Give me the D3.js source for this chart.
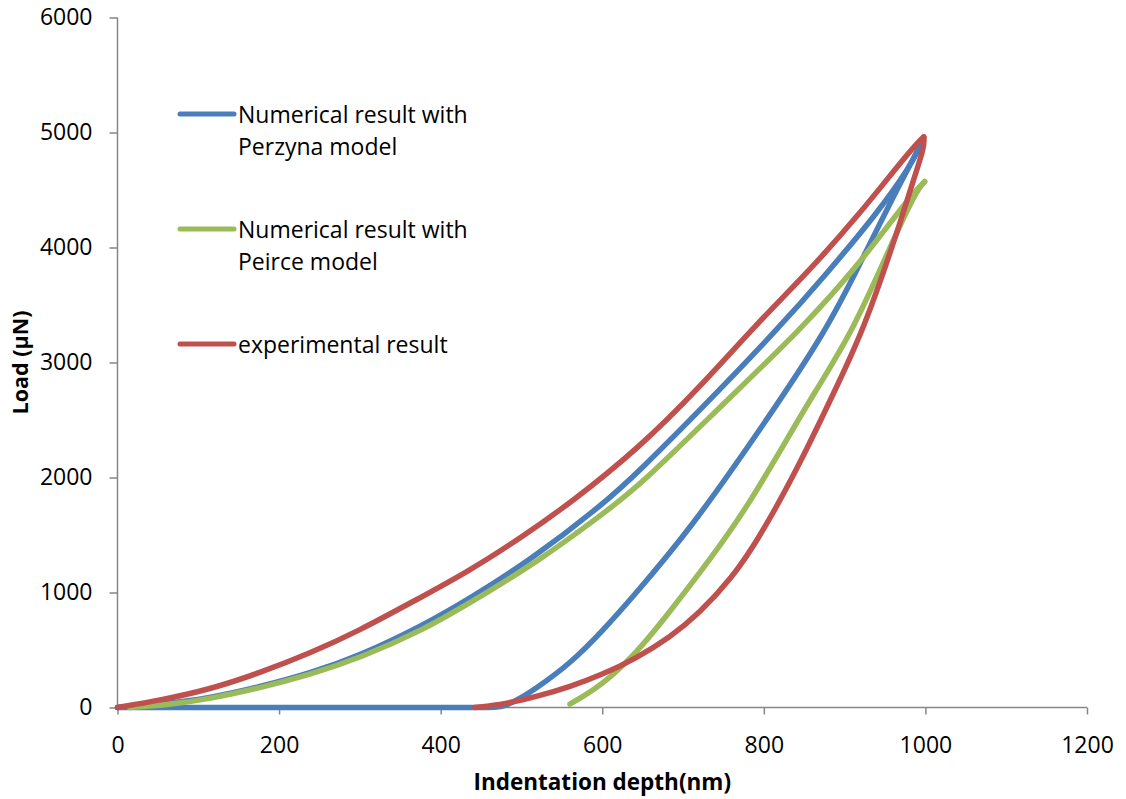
<!DOCTYPE html>
<html>
<head>
<meta charset="utf-8">
<script src="https://cdn.jsdelivr.net/npm/d3@7"></script>
<style>
  body { margin: 0; background: #fff; }
  text { font-family: "Open Sans", sans-serif; fill: #000; }
</style>
</head>
<body>
<svg id="chart" width="1126" height="799"></svg>
<script>
// data: [depth nm, load µN]
const perzynaLoad = [[0,0],[50,25],[114,81],[176,180],[238,298],[300,450],[380,720],[434,940],[511,1281],[600,1760],[647,2063],[729,2643],[816,3281],[878,3774],[940,4296],[981,4701],[995,4905]];
const perzynaUnload = [[995,4905],[960,4440],[919,3861],[878,3281],[795,2411],[708,1542],[640,980],[601,670],[560,380],[519,170],[495,65],[480,15],[470,0],[440,0],[0,0]];
const peirceLoad = [[15,0],[60,20],[114,75],[176,170],[238,285],[300,430],[380,680],[434,900],[523,1281],[600,1680],[647,1933],[750,2643],[845,3281],[919,3861],[977,4411],[999,4573]];
const peirceUnload = [[999,4573],[989,4498],[960,4063],[911,3281],[861,2720],[828,2324],[780,1750],[735,1300],[680,800],[642,470],[600,200],[575,90],[560,30]];
const expLoad = [[0,0],[53,63],[114,157],[176,301],[238,470],[300,672],[362,907],[436,1190],[500,1480],[560,1774],[647,2266],[721,2788],[793,3350],[857,3803],[919,4296],[968,4730],[990,4910],[998,4962]];
const expUnload = [[998,4962],[999,4880],[985,4585],[962,4063],[923,3281],[894,2846],[845,2120],[795,1480],[760,1120],[720,820],[684,610],[640,420],[601,290],[560,180],[519,95],[480,30],[442,0]];

const xTicks = [0, 200, 400, 600, 800, 1000, 1200];
const yTicks = [0, 1000, 2000, 3000, 4000, 5000, 6000];

const seriesNames = [["Numerical result with", "Perzyna model"], ["Numerical result with", "Peirce model"], ["experimental result"]];
const seriesColors = ["#4A7EBB", "#9BBB59", "#C0504D"];
const seriesData = [[perzynaLoad, perzynaUnload], [peirceLoad, peirceUnload], [expLoad, expUnload]];

const margin = { left: 117.5, top: 17.5 };
const width = 969.5;
const height = 690;

const svg = d3.select("#chart");
const g = svg.append("g").attr("transform", "translate(" + margin.left + "," + margin.top + ")");

const xScale = d3.scaleLinear().domain([0, 1200]).range([0, width]);
const yScale = d3.scaleLinear().domain([0, 6000]).range([height, 0]);

const axisColor = "#868686";

let xAxis = d3.axisBottom(xScale).tickValues(xTicks).tickSize(7).tickPadding(22).tickFormat(d3.format("d"));
let yAxis = d3.axisLeft(yScale).tickValues(yTicks).tickSize(8).tickPadding(17).tickFormat(d3.format("d"));

const gx = g.append("g").attr("transform", "translate(0," + height + ")").call(xAxis);
const gy = g.append("g").call(yAxis);

[gx, gy].forEach((ax) => {
  ax.select(".domain").attr("stroke", axisColor).attr("stroke-width", 1.5);
  ax.selectAll(".tick line").attr("stroke", axisColor).attr("stroke-width", 1.5);
  ax.selectAll(".tick text").attr("font-family", "Open Sans").attr("font-size", 23).attr("fill", "#000");
});
// plain axis lines, no outer ticks
gx.select(".domain").attr("d", "M0,0H" + width);
gy.select(".domain").attr("d", "M0," + height + "V0");

// curves, smoothed
const line = d3.line()
  .x((d) => xScale(d[0]))
  .y((d) => yScale(d[1]))
  .curve(d3.curveBasis);

seriesData.forEach((parts, i) => {
  parts.forEach((part) => {
    g.append("path")
      .datum(part)
      .attr("d", line)
      .attr("fill", "none")
      .attr("stroke", seriesColors[i])
      .attr("stroke-width", 5.5)
      .attr("stroke-linecap", "round")
      .attr("stroke-linejoin", "round");
  });
});

// legend
const legend = svg.append("g").attr("transform", "translate(180,114)");
seriesNames.forEach((lines, i) => {
  const item = legend.append("g").attr("transform", "translate(0," + i * 115 + ")");
  item.append("line")
    .attr("x1", 0).attr("x2", 54)
    .attr("y1", 0).attr("y2", 0)
    .attr("stroke", seriesColors[i])
    .attr("stroke-width", 5)
    .attr("stroke-linecap", "round");
  lines.forEach((t, j) => {
    item.append("text")
      .attr("x", 58)
      .attr("y", 9 + j * 32)
      .attr("font-size", 23)
      .text(t);
  });
});

// axis titles
svg.append("text")
  .attr("x", margin.left + xScale(600))
  .attr("y", 790)
  .attr("text-anchor", "middle")
  .attr("font-size", 22.5)
  .attr("font-weight", "bold")
  .text("Indentation depth(nm)");

svg.append("text")
  .attr("transform", "translate(28," + (margin.top + yScale(3000)) + ") rotate(-90)")
  .attr("text-anchor", "middle")
  .attr("font-size", 21.5)
  .attr("font-weight", "bold")
  .text("Load (µN)");
</script>
</body>
</html>
